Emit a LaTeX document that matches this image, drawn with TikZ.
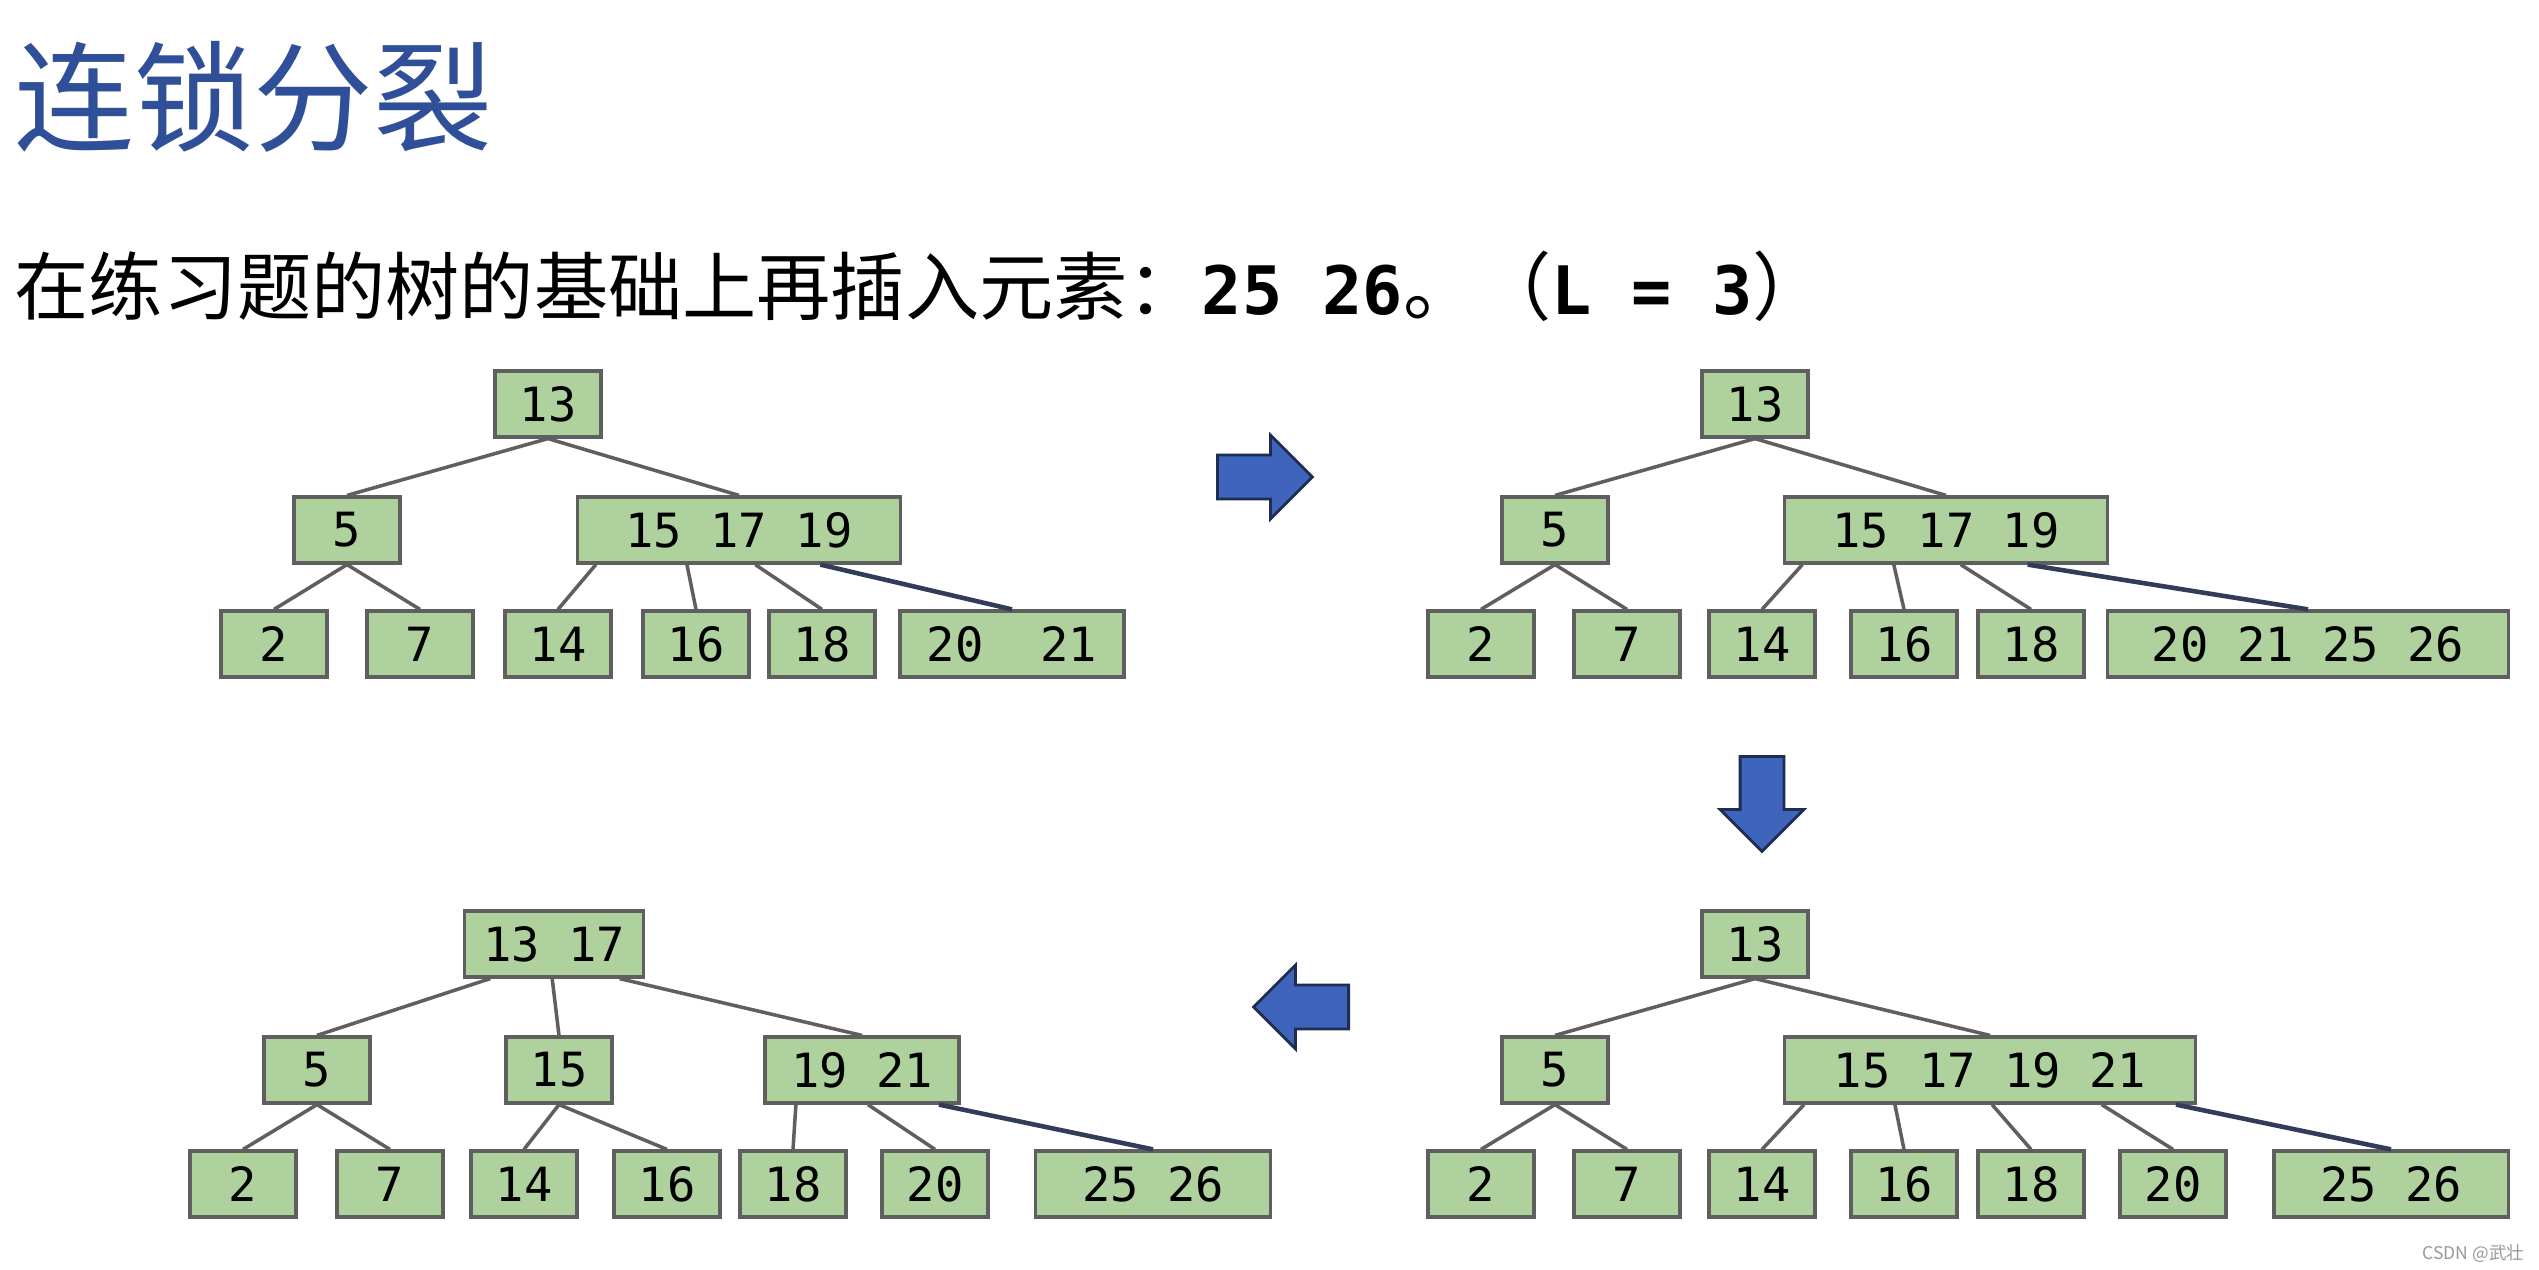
\documentclass[tikz,border=0pt]{standalone}
\usepackage{fontspec}
\setmainfont{Noto Sans CJK SC}
\setmonofont{DejaVu Sans Mono}
\usetikzlibrary{calc,shapes.arrows}

\definecolor{keygreen}{RGB}{174,209,158}
\definecolor{keyline}{RGB}{95,95,95}
\definecolor{navyline}{RGB}{50,60,88}
\definecolor{arrowblue}{RGB}{62,100,188}
\definecolor{arrowline}{RGB}{30,45,80}
\definecolor{titleblue}{RGB}{47,79,152}

\begin{document}
\begin{tikzpicture}[x=0.01cm, y=-0.01cm,
    key/.style={draw=keyline, fill=keygreen, line width=0.9pt, minimum width=1.06cm,
      minimum height=0.66cm, inner sep=0pt, font=\fontsize{13.4}{14}\selectfont\ttfamily},
    link/.style={draw=keyline, line width=1pt},
    last/.style={draw=navyline, line width=1.3pt},
    blockarrow/.style={single arrow, draw=arrowline, fill=arrowblue, line width=0.8pt,
      minimum height=0.95cm, single arrow head extend=0.2cm,
      inner xsep=0pt, inner ysep=0.205cm, anchor=tail}]
	  \fill[white] (0,0) rectangle (2539,1270);
	  \useasboundingbox (0,0) rectangle (2539,1270);

	  \node[anchor=west, inner sep=0pt, text=titleblue, font=\fontsize{34}{36}\selectfont] (title) at (14,97) {连锁分裂};
	  \node[anchor=west, inner sep=0pt, font=\fontsize{21.1}{25}\selectfont] (task) at (14,286)
	    {在练习题的树的基础上再插入元素：{\fontsize{19}{25}\selectfont\ttfamily\bfseries 25 26}。（{\fontsize{19}{25}\selectfont\ttfamily\bfseries L = 3}）};

	  % tree before the insert
	  \node[key] (a13) at (548,404) {13};
	  \node[key] (a5) at (347,530) {5};
	  \node[key, minimum width=3.22cm] (a151719) at (739,530) {15 17 19};
	  \node[key] (a2) at (274,644) {2};
	  \node[key] (a7) at (420,644) {7};
	  \node[key] (a14) at (558,644) {14};
	  \node[key] (a16) at (696,644) {16};
	  \node[key] (a18) at (822,644) {18};
	  \node[key, minimum width=2.24cm] (a2021) at (1012,644) {20~~21};

	  \draw[link] (a13.south) -- (a5.north);
	  \draw[link] (a13.south) -- (a151719.north);
	  \draw[link] (a5.south) -- (a2.north);
	  \draw[link] (a5.south) -- (a7.north);
	  \draw[link] ($(a151719.south west)!0.06!(a151719.south east)$) -- (a14.north);
	  \draw[link] ($(a151719.south west)!0.34!(a151719.south east)$) -- (a16.north);
	  \draw[link] ($(a151719.south west)!0.55!(a151719.south east)$) -- (a18.north);
	  \draw[last] ($(a151719.south west)!0.75!(a151719.south east)$) -- (a2021.north);

	  % 25 and 26 put into the leaf
	  \node[key] (b13) at (1755,404) {13};
	  \node[key] (b5) at (1555,530) {5};
	  \node[key, minimum width=3.23cm] (b151719) at (1946,530) {15 17 19};
	  \node[key] (b2) at (1481,644) {2};
	  \node[key] (b7) at (1627,644) {7};
	  \node[key] (b14) at (1762,644) {14};
	  \node[key] (b16) at (1904,644) {16};
	  \node[key] (b18) at (2031,644) {18};
	  \node[key, minimum width=4.00cm] (b20212526) at (2308,644) {20 21 25 26};

	  \draw[link] (b13.south) -- (b5.north);
	  \draw[link] (b13.south) -- (b151719.north);
	  \draw[link] (b5.south) -- (b2.north);
	  \draw[link] (b5.south) -- (b7.north);
	  \draw[link] ($(b151719.south west)!0.06!(b151719.south east)$) -- (b14.north);
	  \draw[link] ($(b151719.south west)!0.34!(b151719.south east)$) -- (b16.north);
	  \draw[link] ($(b151719.south west)!0.545!(b151719.south east)$) -- (b18.north);
	  \draw[last] ($(b151719.south west)!0.75!(b151719.south east)$) -- (b20212526.north);

	  % leaf split, 21 goes up
	  \node[key] (c13) at (1755,944) {13};
	  \node[key] (c5) at (1555,1070) {5};
	  \node[key, minimum width=4.10cm] (c15171921) at (1990,1070) {15 17 19 21};
	  \node[key] (c2) at (1481,1184) {2};
	  \node[key] (c7) at (1627,1184) {7};
	  \node[key] (c14) at (1762,1184) {14};
	  \node[key] (c16) at (1904,1184) {16};
	  \node[key] (c18) at (2031,1184) {18};
	  \node[key] (c20) at (2173,1184) {20};
	  \node[key, minimum width=2.34cm] (c2526) at (2391,1184) {25 26};

	  \draw[link] (c13.south) -- (c5.north);
	  \draw[link] (c13.south) -- (c15171921.north);
	  \draw[link] (c5.south) -- (c2.north);
	  \draw[link] (c5.south) -- (c7.north);
	  \draw[link] ($(c15171921.south west)!0.05!(c15171921.south east)$) -- (c14.north);
	  \draw[link] ($(c15171921.south west)!0.27!(c15171921.south east)$) -- (c16.north);
	  \draw[link] ($(c15171921.south west)!0.505!(c15171921.south east)$) -- (c18.north);
	  \draw[link] ($(c15171921.south west)!0.77!(c15171921.south east)$) -- (c20.north);
	  \draw[last] ($(c15171921.south west)!0.95!(c15171921.south east)$) -- (c2526.north);

	  % inner node split, 17 goes up
	  \node[key, minimum width=1.79cm] (d1317) at (554,944) {13 17};
	  \node[key] (d5) at (317,1070) {5};
	  \node[key] (d15) at (559,1070) {15};
	  \node[key, minimum width=1.94cm] (d1921) at (862,1070) {19 21};
	  \node[key] (d2) at (243,1184) {2};
	  \node[key] (d7) at (390,1184) {7};
	  \node[key] (d14) at (524,1184) {14};
	  \node[key] (d16) at (667,1184) {16};
	  \node[key] (d18) at (793,1184) {18};
	  \node[key] (d20) at (935,1184) {20};
	  \node[key, minimum width=2.35cm] (d2526) at (1153,1184) {25 26};

	  \draw[link] ($(d1317.south west)!0.15!(d1317.south east)$) -- (d5.north);
	  \draw[link] ($(d1317.south west)!0.49!(d1317.south east)$) -- (d15.north);
	  \draw[link] ($(d1317.south west)!0.86!(d1317.south east)$) -- (d1921.north);
	  \draw[link] (d5.south) -- (d2.north);
	  \draw[link] (d5.south) -- (d7.north);
	  \draw[link] (d15.south) -- (d14.north);
	  \draw[link] (d15.south) -- (d16.north);
	  \draw[link] ($(d1921.south west)!0.165!(d1921.south east)$) -- (d18.north);
	  \draw[link] ($(d1921.south west)!0.53!(d1921.south east)$) -- (d20.north);
	  \draw[last] ($(d1921.south west)!0.89!(d1921.south east)$) -- (d2526.north);

	  % steps
	  \node[blockarrow] (step1) at (1216,477) {};
	  \node[blockarrow, rotate=270] (step2) at (1762,755) {};
	  \node[blockarrow, rotate=180] (step3) at (1350,1007) {};

	  \node[anchor=east, inner sep=0pt, text=black!40, font=\fontsize{5}{6}\selectfont] (mark) at (2525,1254) {CSDN @武壮};
\end{tikzpicture}
\end{document}
